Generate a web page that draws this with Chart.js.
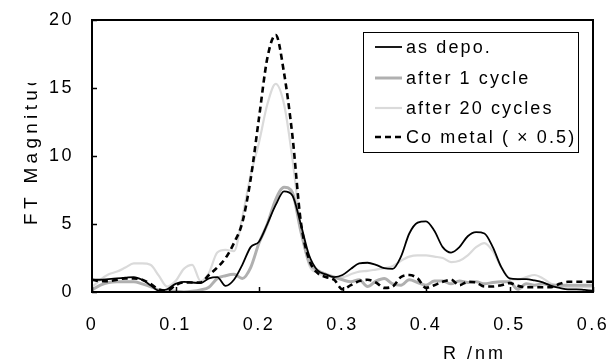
<!DOCTYPE html>
<html>
<head>
<meta charset="utf-8">
<script src="https://cdn.jsdelivr.net/npm/chart.js@4.4.1/dist/chart.umd.min.js"></script>
<style>
  body { margin: 0; background: #fff; }
  #wrap { width: 610px; height: 364px; }
</style>
</head>
<body>
<div id="wrap"><canvas id="ftChart" width="610" height="364"></canvas></div>
<script>
// R values (nm)
var rValues = [0.00, 0.01, 0.02, 0.03, 0.04, 0.05, 0.06, 0.07, 0.08, 0.09,
               0.10, 0.11, 0.12, 0.13, 0.14, 0.15, 0.16, 0.17, 0.18, 0.19,
               0.20, 0.21, 0.22, 0.23, 0.24, 0.25, 0.26, 0.27, 0.28, 0.29,
               0.30, 0.31, 0.32, 0.33, 0.34, 0.35, 0.36, 0.37, 0.38, 0.39,
               0.40, 0.41, 0.42, 0.43, 0.44, 0.45, 0.46, 0.47, 0.48, 0.49,
               0.50, 0.51, 0.52, 0.53, 0.54, 0.55, 0.56, 0.57, 0.58, 0.59,
               0.60];

var asDepo = [0.9, 0.9, 0.95, 1.0, 1.05, 1.1, 0.9, 0.5, 0.1, 0.2,
              0.6, 0.75, 0.7, 0.65, 1.0, 1.1, 0.45, 0.9, 2.0, 3.3,
              3.7, 5.0, 6.4, 7.4, 7.1, 5.0, 2.7, 1.6, 1.3, 1.1,
              1.25, 1.7, 2.1, 2.15, 2.0, 1.75, 1.7, 2.6, 4.3, 5.1,
              5.2, 4.5, 3.3, 2.9, 3.3, 4.1, 4.4, 4.3, 3.3, 1.85,
              1.0, 0.95, 0.95, 0.85, 0.7, 0.45, 0.3, 0.2, 0.2, 0.15,
              0.1];

var after1Cycle = [0.15, 0.5, 0.7, 0.75, 0.75, 0.75, 0.6, 0.4, 0.15, 0.1,
                   0.05, 0.0, 0.05, 0.15, 0.35, 1.0, 1.2, 1.3, 1.0, 1.8,
                   3.6, 5.0, 6.8, 7.7, 7.3, 4.5, 2.2, 1.6, 1.3, 1.1,
                   0.9, 0.75, 0.9, 0.4, 0.8, 1.0, 0.6, 0.5, 0.9, 0.7,
                   0.5, 0.8, 0.8, 0.6, 0.8, 0.7, 0.75, 0.6, 0.7, 0.75,
                   0.75, 0.2, 0.6, 0.5, 0.6, 0.5, 0.5, 0.5, 0.5, 0.5,
                   0.5];

var after20Cycles = [0.35, 0.9, 1.3, 1.5, 1.8, 2.1, 2.1, 2.0, 1.2, 0.4,
                     0.8, 1.7, 2.0, 0.8, 1.4, 2.9, 3.1, 3.0, 5.5, 8.6,
                     11.0, 13.8, 15.3, 13.8, 9.8, 4.8, 2.0, 1.4, 1.2, 1.1,
                     1.1, 1.3, 1.5, 1.55, 1.65, 1.75, 1.9, 2.3, 2.6, 2.7,
                     2.7, 2.6, 2.5, 2.2, 2.3, 2.7, 3.3, 3.6, 3.0, 1.85,
                     1.0, 0.9, 1.1, 1.25, 1.0, 0.6, 0.45, 0.35, 0.35, 0.35,
                     0.35];

var coMetal = [0.9, 0.8, 0.8, 0.9, 1.0, 1.0, 0.9, 0.6, 0.2, 0.1,
               0.5, 0.7, 0.7, 0.7, 1.25, 1.8, 2.5, 3.6, 5.1, 8.3,
               12.8, 17.2, 18.9, 16.1, 11.5, 5.2, 2.4, 1.4, 1.1, 0.9,
               0.2, 0.5, 0.8, 0.9, 0.7, 0.3, 0.4, 1.1, 1.25, 1.0,
               0.3, 0.5, 0.75, 0.9, 0.5, 0.75, 0.7, 0.4, 0.4, 0.5,
               0.65, 0.45, 0.35, 0.35, 0.35, 0.35, 0.6, 0.75, 0.75, 0.75,
               0.75];

var seriesLabels = ['as depo.', 'after 1 cycle', 'after 20 cycles', 'Co metal ( \u00d7 0.5)'];
var xTicks = [0, 0.1, 0.2, 0.3, 0.4, 0.5, 0.6];
var yTicks = [0, 5, 10, 15, 20];

function toPoints(vals) {
    return vals.map(function (v, i) { return { x: rValues[i], y: v }; });
}

var FONT = 'Liberation Sans, Arial, sans-serif';

// frame, inside ticks, legend box, axis titles
var decorPlugin = {
    id: 'decor',
    beforeDraw: function (chart) {
        chart.ctx.letterSpacing = '2.5px';
    },
    afterDraw: function (chart) {
        var ctx = chart.ctx;
        var a = chart.chartArea;
        var xs = chart.scales.x, ys = chart.scales.y;
        ctx.save();
        ctx.strokeStyle = '#000';
        ctx.lineWidth = 2;
        ctx.strokeRect(a.left, a.top, a.right - a.left, a.bottom - a.top);
        ctx.lineWidth = 1.5;
        ctx.beginPath();
        yTicks.forEach(function (t) {
            var py = Math.round(ys.getPixelForValue(t)) + 0.5;
            ctx.moveTo(a.left, py); ctx.lineTo(a.left + 5, py);
        });
        xTicks.forEach(function (t) {
            var px = Math.round(xs.getPixelForValue(t)) + 0.5;
            ctx.moveTo(px, a.bottom); ctx.lineTo(px, a.bottom - 5);
        });
        ctx.stroke();

        // legend
        var lx = 363, ly = 32, lw = 215, lh = 120;
        ctx.fillStyle = '#fff';
        ctx.fillRect(lx, ly, lw, lh);
        ctx.lineWidth = 1;
        ctx.strokeStyle = '#000';
        ctx.strokeRect(lx + 0.5, ly + 0.5, lw, lh);
        var rows = [47, 78, 108, 137];
        ctx.font = '18px ' + FONT;
        ctx.letterSpacing = '2.1px';
        ctx.textBaseline = 'middle';
        ctx.textAlign = 'left';
        chart.data.datasets.forEach(function (ds, i) {
            ctx.save();
            ctx.strokeStyle = ds.borderColor;
            ctx.lineWidth = ds.borderWidth;
            ctx.setLineDash(ds.borderDash || []);
            ctx.beginPath();
            ctx.moveTo(375, rows[i]); ctx.lineTo(402, rows[i]);
            ctx.stroke();
            ctx.restore();
            ctx.fillStyle = '#000';
            ctx.fillText(ds.label, 406, rows[i] + 1);
        });

        // x title
        ctx.fillStyle = '#000';
        ctx.letterSpacing = '3px';
        ctx.textBaseline = 'alphabetic';
        ctx.fillText('R /nm', 443, 359);

        // y title, clipped at top like the original text box
        ctx.save();
        ctx.beginPath();
        ctx.rect(0, 83, 70, 200);
        ctx.clip();
        ctx.font = '19px ' + FONT;
        ctx.letterSpacing = '4.3px';
        ctx.translate(37, 225);
        ctx.rotate(-Math.PI / 2);
        ctx.textAlign = 'left';
        ctx.fillText('FT Magnitude', 0, 0);
        ctx.restore();
        ctx.restore();
    }
};

function noEdgePadding(s) {
    s.paddingTop = 0;
    s.paddingBottom = 0;
    s.paddingLeft = 0;
    s.paddingRight = 0;
}

var ctx = document.getElementById('ftChart').getContext('2d');
var chart = new Chart(ctx, {
    type: 'line',
    data: {
        datasets: [
            {
                label: seriesLabels[0],
                data: toPoints(asDepo),
                borderColor: '#000000',
                borderWidth: 1.8,
                order: 2
            },
            {
                label: seriesLabels[1],
                data: toPoints(after1Cycle),
                borderColor: '#b0b0b0',
                borderWidth: 3,
                order: 3
            },
            {
                label: seriesLabels[2],
                data: toPoints(after20Cycles),
                borderColor: '#dadada',
                borderWidth: 2.2,
                order: 4
            },
            {
                label: seriesLabels[3],
                data: toPoints(coMetal),
                borderColor: '#000000',
                borderWidth: 2.6,
                borderDash: [6, 4],
                order: 1
            }
        ]
    },
    options: {
        responsive: false,
        animation: false,
        events: [],
        elements: {
            point: { radius: 0 },
            line: { cubicInterpolationMode: 'monotone', fill: false }
        },
        layout: { padding: { top: 20, right: 17, left: 0, bottom: 0 } },
        plugins: {
            legend: { display: false },
            tooltip: { enabled: false }
        },
        scales: {
            x: {
                type: 'linear',
                min: 0,
                max: 0.6,
                grid: { display: false, drawTicks: false },
                border: { display: false },
                ticks: {
                    stepSize: 0.1,
                    color: '#000',
                    padding: 22,
                    maxRotation: 0,
                    font: { family: FONT, size: 18 },
                    callback: function (v) { return String(Number(v.toFixed(1))); }
                },
                afterFit: function (s) { s.height = 72; noEdgePadding(s); }
            },
            y: {
                min: 0,
                max: 20,
                grid: { display: false, drawTicks: false },
                border: { display: false },
                ticks: {
                    stepSize: 5,
                    color: '#000',
                    padding: 18,
                    font: { family: FONT, size: 18 }
                },
                afterFit: function (s) { s.width = 92; noEdgePadding(s); }
            }
        }
    },
    plugins: [decorPlugin]
});
</script>
</body>
</html>
